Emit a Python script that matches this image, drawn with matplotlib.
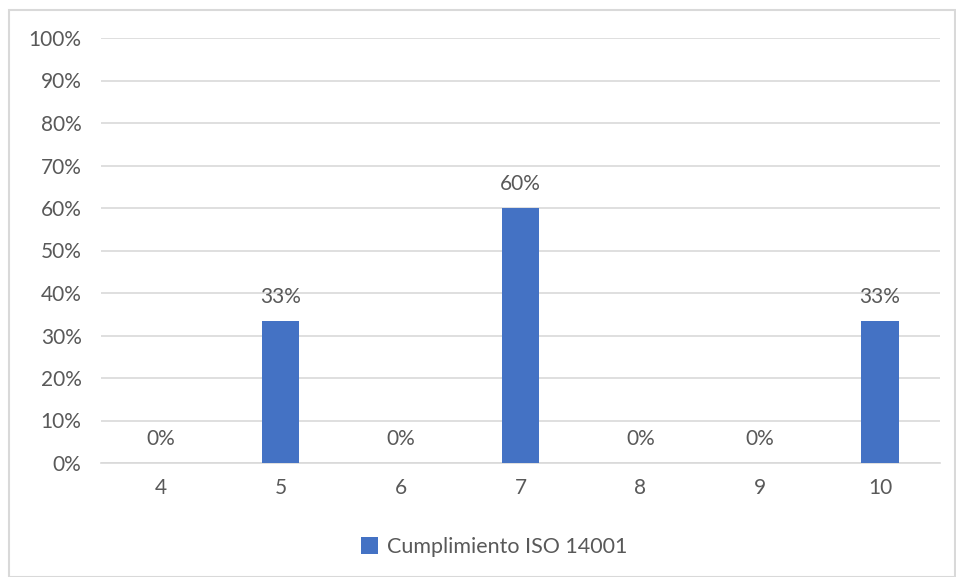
import matplotlib.pyplot as plt
from matplotlib.patches import Rectangle
from matplotlib.ticker import PercentFormatter

# Data
categories = ['4', '5', '6', '7', '8', '9', '10']
values = [0.0, 0.3333, 0.0, 0.60, 0.0, 0.0, 0.3333]
labels = ['0%', '33%', '0%', '60%', '0%', '0%', '33%']
series_name = 'Cumplimiento ISO 14001'

bar_color = '#4472C4'
text_color = '#595959'
grid_color = '#D9D9D9'

plt.rcParams['font.family'] = ['Lato', 'DejaVu Sans']

fig = plt.figure(figsize=(9.56, 5.77), dpi=100)
ax = fig.add_axes([101/956, 1-463/577, (940-101)/956, (463-38)/577])

x = range(len(categories))
bars = ax.bar(x, values, width=0.31, color=bar_color, label=series_name, zorder=3)

for xi, v, lab in zip(x, values, labels):
    ax.annotate(lab, (xi, v), xytext=(0, 10), textcoords='offset points',
                ha='center', va='bottom', fontsize=15, color=text_color)

ax.set_xlim(-0.5, len(categories) - 0.5)
ax.set_ylim(0, 1)
ax.set_yticks([i / 10 for i in range(11)])
ax.yaxis.set_major_formatter(PercentFormatter(1.0, decimals=0))
ax.set_xticks(list(x))
ax.set_xticklabels(categories)
ax.tick_params(axis='both', length=0, labelsize=15, labelcolor=text_color)
ax.tick_params(axis='y', pad=14)
ax.tick_params(axis='x', pad=11)
ax.grid(axis='y', color=grid_color, linewidth=1.2, zorder=0)
for s in ['top', 'right', 'left']:
    ax.spines[s].set_visible(False)
ax.spines['bottom'].set_color(grid_color)
ax.spines['bottom'].set_linewidth(1.2)

fig.legend(loc='center', bbox_to_anchor=(494/956, 1 - 547/577), frameon=False,
           fontsize=15.5, labelcolor=text_color, handlelength=0.8, handleheight=0.8,
           handletextpad=0.4)

# chart border
fig.patches.append(Rectangle((9/956, 0), 946/956, 1 - 10/577, transform=fig.transFigure,
                             fill=False, edgecolor=grid_color, linewidth=1.5))

fig.savefig('out.png', dpi=100)
